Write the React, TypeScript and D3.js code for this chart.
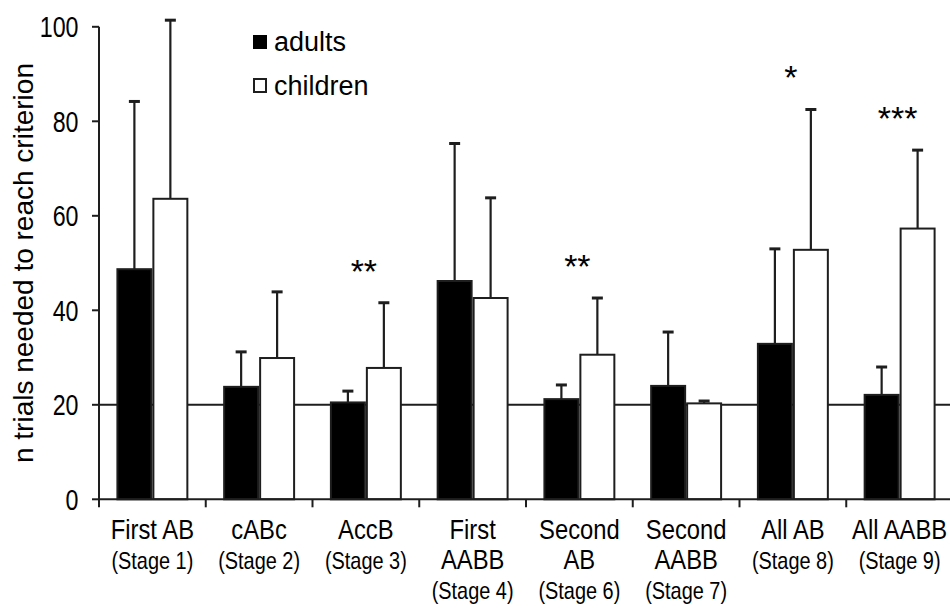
import { useMemo } from 'react';
import * as d3 from 'd3';

// tasks on the x axis, with their stage labels underneath
const categories = ['First AB', 'cABc', 'AccB', 'First AABB', 'Second AB', 'Second AABB', 'All AB', 'All AABB'];
const labelLines = [['First AB'], ['cABc'], ['AccB'], ['First', 'AABB'], ['Second', 'AB'], ['Second', 'AABB'], ['All AB'], ['All AABB']];
const stages = ['(Stage 1)', '(Stage 2)', '(Stage 3)', '(Stage 4)', '(Stage 6)', '(Stage 7)', '(Stage 8)', '(Stage 9)'];

// mean trials to criterion and SD (upper whisker only)
const adultMeans = [48.7, 23.8, 20.5, 46.2, 21.2, 24.0, 32.9, 22.1];
const adultSD = [35.5, 7.4, 2.4, 29.1, 3.0, 11.4, 20.1, 5.9];
const childMeans = [63.6, 29.9, 27.8, 42.6, 30.6, 20.3, 52.8, 57.3];
const childSD = [37.8, 14.0, 13.8, 21.2, 12.0, 0.5, 29.7, 16.6];

const significance = ['', '', '**', '', '**', '', '*', '***'];
const criterion = 20;
const yTicks = [0, 20, 40, 60, 80, 100];

const W = 950;
const H = 608;
const FONT = '"Liberation Sans", Arial, sans-serif';
const INK = '#1e1e1e';

// the original uses a condensed sans; squeeze Liberation horizontally
function Narrow({ x, y, sx, size, anchor = 'middle', children }: {
  x: number; y: number; sx: number; size: number; anchor?: string; children: React.ReactNode;
}) {
  return (
    <text transform={`translate(${x},${y}) scale(${sx},1)`} textAnchor={anchor} fontSize={size} fill="#000">
      {children}
    </text>
  );
}

export default function App(): React.ReactNode {
  const { x0, x1, y, bounds } = useMemo(() => {
    const x0 = d3
      .scaleBand<string>()
      .domain(categories)
      .range([99, 953])
      .paddingInner(0.326)
      .paddingOuter(0.163);
    const x1 = d3
      .scaleBand<string>()
      .domain(['adults', 'children'])
      .range([0, x0.bandwidth()]);
    const y = d3.scaleLinear().domain([0, 100]).range([499.3, 26.8]);
    const bounds = d3.range(categories.length + 1).map((i) => 99 + i * x0.step());
    return { x0, x1, y, bounds };
  }, []);

  const groups = categories.map((c, i) => ({
    c,
    i,
    bars: [
      { key: 'adults', mean: adultMeans[i], sd: adultSD[i], fill: '#000' },
      { key: 'children', mean: childMeans[i], sd: childSD[i], fill: '#fff' },
    ],
  }));

  const bw = x1.bandwidth();
  const cap = 5.5;

  return (
    <svg
      width={W}
      height={H}
      style={{ position: 'absolute', left: 0, top: 0, background: '#fff' }}
      fontFamily={FONT}
    >
      {/* criterion line, sits behind the bars */}
      <line x1={99} x2={953} y1={y(criterion)} y2={y(criterion)} stroke={INK} strokeWidth={2} />

      {groups.map((g) => (
        <g key={g.c} transform={`translate(${x0(g.c)},0)`}>
          {g.bars.map((b) => {
            const bx = x1(b.key) ?? 0;
            const cx = bx + bw / 2;
            return (
              <g key={b.key}>
                <rect
                  x={bx + 1}
                  y={y(b.mean)}
                  width={bw - 2}
                  height={y(0) - y(b.mean)}
                  fill={b.fill}
                  stroke={INK}
                  strokeWidth={2}
                />
                <line x1={cx} x2={cx} y1={y(b.mean)} y2={y(b.mean + b.sd)} stroke={INK} strokeWidth={2.2} />
                <line
                  x1={cx - cap}
                  x2={cx + cap}
                  y1={y(b.mean + b.sd)}
                  y2={y(b.mean + b.sd)}
                  stroke={INK}
                  strokeWidth={3}
                />
              </g>
            );
          })}
          {significance[g.i] && (
            <text
              x={x0.bandwidth() / 2 - 2}
              y={y(childMeans[g.i] + childSD[g.i] + 8.3) + 19}
              textAnchor="middle"
              fontSize={34}
              fill="#000"
            >
              {significance[g.i]}
            </text>
          )}
        </g>
      ))}

      {/* axes */}
      <line x1={99} x2={99} y1={y(100)} y2={y(0)} stroke={INK} strokeWidth={2} />
      <line x1={99} x2={953} y1={y(0)} y2={y(0)} stroke={INK} strokeWidth={2} />
      {yTicks.map((t) => (
        <g key={t}>
          <line x1={92} x2={99} y1={y(t)} y2={y(t)} stroke={INK} strokeWidth={2} />
          <Narrow x={78.5} y={y(t) + 10.5} sx={0.8} size={29}>
            <tspan textAnchor="end">{t}</tspan>
          </Narrow>
        </g>
      ))}
      {bounds.map((bx, i) => (
        <line key={i} x1={bx} x2={bx} y1={y(0)} y2={y(0) + 8} stroke={INK} strokeWidth={2} />
      ))}

      {categories.map((c, i) => {
        const cx = (x0(c) ?? 0) + x0.bandwidth() / 2;
        const lines = labelLines[i];
        return (
          <g key={c}>
            {lines.map((l, j) => (
              <Narrow key={l} x={cx} y={538.5 + j * 30} sx={0.85} size={28}>
                {l}
              </Narrow>
            ))}
            <Narrow x={cx} y={539 + lines.length * 30} sx={0.83} size={24}>
              {stages[i]}
            </Narrow>
          </g>
        );
      })}

      <text
        transform={`translate(33,${y(50)}) rotate(-90)`}
        textAnchor="middle"
        fontSize={28}
        fill="#000"
      >
        n trials needed to reach criterion
      </text>

      {/* legend */}
      <rect x={253} y={35} width={14} height={14} fill="#000" />
      <text x={274} y={51} fontSize={27} fill="#000">adults</text>
      <rect x={254} y={79} width={12} height={13} fill="#fff" stroke={INK} strokeWidth={2} />
      <text x={274} y={95} fontSize={27} fill="#000">children</text>
    </svg>
  );
}
